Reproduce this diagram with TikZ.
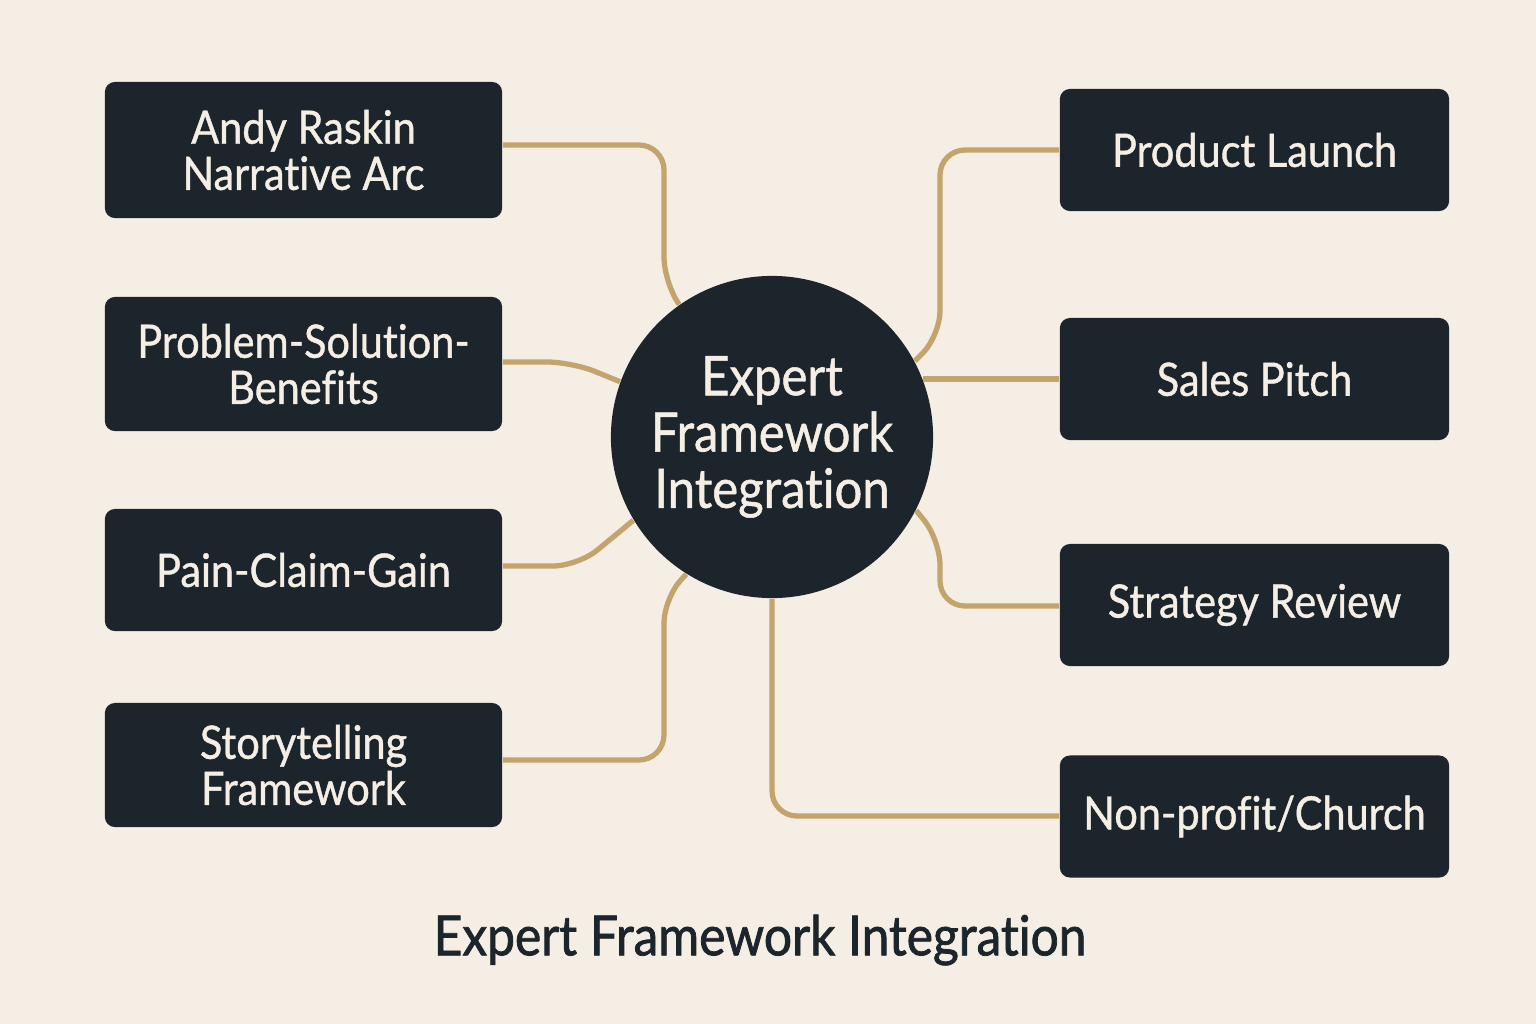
\documentclass[tikz,border=0pt]{standalone}
\usepackage{fontspec}
\setmainfont{Lato}
\newfontfamily\medfont[FakeBold=0.9, FakeStretch=0.9, Ligatures={NoCommon}]{Lato}
\newfontfamily\titfont[FakeBold=1.4, FakeStretch=0.9, Ligatures={NoCommon}]{Lato}
\definecolor{bgc}{HTML}{F5EEE4}
\definecolor{darkc}{HTML}{1B252B}
\definecolor{tanc}{HTML}{C3A46D}
\definecolor{txtc}{HTML}{F5EEE4}
\tikzset{
  box/.style={draw=none, fill=darkc, rounded corners=0.1cm, text=txtc, align=center,
    font=\medfont\fontsize{13.1}{13.1}\selectfont, inner sep=0pt},
  lbox/.style={box, minimum width=3.97cm},
  rbox/.style={box, minimum width=3.89cm, minimum height=1.22cm},
  hub/.style={circle, fill=darkc, text=txtc, minimum size=3.22cm, inner sep=0pt, align=center,
    font=\medfont\fontsize{15.5}{16}\selectfont},
  conn/.style={draw=tanc, line width=1.5pt, rounded corners=0.25cm}
}
\begin{document}
\begin{tikzpicture}[x=0.01cm, y=-0.01cm]
\fill[bgc] (0,0) rectangle (1536,1024);
\useasboundingbox (0,0) rectangle (1536,1024);
% nodes
\node[hub] (c) at (772,437) {Expert\\Framework\\Integration};
\node[lbox, minimum height=1.36cm] (a) at (303.5,150) {Andy Raskin\\Narrative Arc};
\node[lbox, minimum height=1.34cm] (b) at (303.5,364) {Problem-Solution-\\Benefits};
\node[lbox, minimum height=1.22cm] (p) at (303.5,570) {Pain-Claim-Gain};
\node[lbox, minimum height=1.24cm] (s) at (303.5,765) {Storytelling\\Framework};
\node[rbox] (pl) at (1254.5,150) {Product Launch};
\node[rbox] (sp) at (1254.5,379) {Sales Pitch};
\node[rbox] (sr) at (1254.5,605) {Strategy Review};
\node[rbox] (np) at (1254.5,816.5) {Non-profit/Church};
\node[text=darkc, font=\titfont\fontsize{15.7}{16}\selectfont] (t) at (760,940) {Expert Framework Integration};
% connectors
\draw[conn] (a.east |- 0,145) -- (664,145) -- (664,282) -- (c.125);
\draw[conn] (b.east |- 0,362) -- (572,362) -- (c.160);
\draw[conn] (p.east |- 0,566) -- (578,566) -- (c.211);
\draw[conn] (s.east |- 0,760) -- (664,760) -- (664,598) -- (c.238);
\draw[conn] (pl.west |- 0,150) -- (940,150) -- (940,336) -- (c.28);
\draw[conn] (c.21) -- (sp.west |- c.21);
\draw[conn] (sr.west |- 0,606) -- (940,606) -- (940,540) -- (c.-27);
\draw[conn] (np.west |- 0,816) -- (772,816) -- (c.south);
\end{tikzpicture}
\end{document}
